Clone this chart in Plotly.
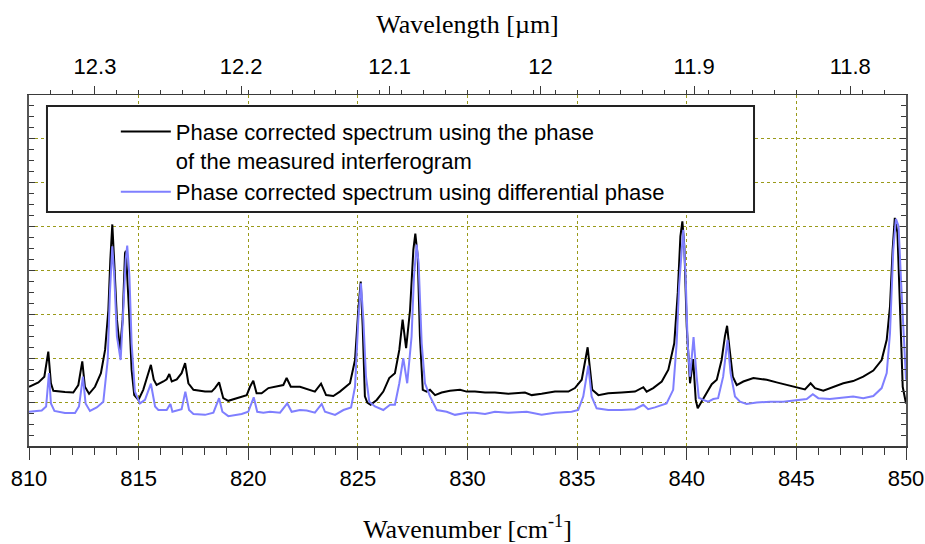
import plotly.graph_objects as go

# ---- data (intensity in arbitrary units) ----
wn_measured = [810.00, 810.43, 810.70, 810.88, 811.00, 811.11, 811.64, 812.02, 812.25, 812.43,
               812.55, 812.74, 813.01, 813.28, 813.47, 813.62, 813.71, 813.80, 813.89, 814.01,
               814.15, 814.27, 814.38, 814.42, 814.56, 814.68, 814.80, 814.99, 815.21, 815.41,
               815.56, 815.69, 815.82, 816.13, 816.28, 816.40, 816.51, 816.74, 816.96, 817.12,
               817.27, 817.50, 818.03, 818.33, 818.48, 818.67, 818.86, 819.09, 819.55, 819.93,
               820.08, 820.23, 820.38, 820.61, 820.92, 821.30, 821.60, 821.75, 821.94, 822.36,
               822.74, 823.04, 823.32, 823.55, 823.88, 824.18, 824.64, 824.87, 825.02, 825.13,
               825.22, 825.32, 825.43, 825.58, 825.86, 826.16, 826.43, 826.69, 826.89, 827.04,
               827.20, 827.38, 827.53, 827.62, 827.73, 827.83, 827.96, 828.14, 828.29, 828.52,
               828.82, 829.20, 829.66, 829.96, 830.34, 830.80, 831.25, 831.86, 832.62, 832.93,
               833.38, 833.99, 834.60, 834.90, 835.21, 835.48, 835.59, 835.69, 835.97, 836.42,
               837.03, 837.64, 838.02, 838.17, 838.47, 838.86, 839.16, 839.43, 839.59, 839.71,
               839.80, 839.89, 840.00, 840.15, 840.29, 840.41, 840.50, 840.68, 840.91, 841.14,
               841.37, 841.59, 841.74, 841.84, 841.94, 842.10, 842.28, 842.58, 843.04, 843.65,
               844.10, 844.56, 845.02, 845.39, 845.65, 845.85, 846.23, 846.68, 847.14, 847.59,
               848.05, 848.51, 848.89, 849.12, 849.27, 849.39, 849.49, 849.61, 849.73, 849.85,
               850.00]
int_measured = [1.35, 1.45, 1.58, 2.15, 1.43, 1.26, 1.23, 1.22, 1.39, 1.93,
                1.35, 1.19, 1.35, 1.66, 2.19, 3.10, 4.25, 5.05, 4.17, 2.88,
                2.19, 2.88, 4.40, 4.45, 3.10, 1.74, 1.16, 1.05, 1.28, 1.58,
                1.85, 1.51, 1.39, 1.47, 1.52, 1.64, 1.47, 1.52, 1.66, 1.89,
                1.43, 1.28, 1.24, 1.24, 1.32, 1.45, 1.09, 1.03, 1.10, 1.16,
                1.35, 1.49, 1.20, 1.20, 1.32, 1.35, 1.39, 1.55, 1.35, 1.35,
                1.28, 1.24, 1.42, 1.16, 1.14, 1.24, 1.43, 1.96, 3.10, 3.75,
                2.72, 1.13, 0.99, 0.94, 1.05, 1.24, 1.55, 1.66, 2.19, 2.88,
                2.23, 3.10, 4.47, 4.84, 4.32, 2.50, 1.28, 1.24, 1.28, 1.16,
                1.22, 1.26, 1.28, 1.24, 1.24, 1.22, 1.22, 1.19, 1.22, 1.16,
                1.19, 1.24, 1.24, 1.32, 1.51, 2.25, 1.74, 1.28, 1.16, 1.20,
                1.22, 1.24, 1.34, 1.24, 1.32, 1.47, 1.74, 2.34, 3.49, 4.78,
                5.12, 4.55, 2.72, 1.43, 1.98, 1.05, 0.86, 1.01, 1.20, 1.41,
                1.51, 1.96, 2.50, 2.74, 2.27, 1.58, 1.39, 1.47, 1.55, 1.51,
                1.45, 1.39, 1.34, 1.29, 1.43, 1.32, 1.26, 1.35, 1.43, 1.48,
                1.58, 1.72, 1.96, 2.42, 3.18, 4.47, 5.20, 4.86, 2.95, 1.35,
                0.97]

wn_differential = [810.00, 810.58, 810.78, 810.91, 811.00, 811.16, 811.64, 812.10, 812.28, 812.46,
                   812.58, 812.78, 813.09, 813.39, 813.59, 813.69, 813.80, 813.89, 814.01, 814.18,
                   814.30, 814.41, 814.48, 814.58, 814.68, 814.83, 815.06, 815.29, 815.56, 815.75,
                   815.90, 816.28, 816.45, 816.54, 816.96, 817.13, 817.30, 817.50, 818.03, 818.41,
                   818.67, 818.82, 819.09, 819.70, 820.00, 820.25, 820.41, 820.69, 820.99, 821.45,
                   821.78, 821.98, 822.36, 822.67, 823.04, 823.35, 823.50, 823.96, 824.34, 824.69,
                   824.87, 825.02, 825.14, 825.25, 825.37, 825.52, 825.78, 826.16, 826.47, 826.69,
                   826.89, 827.07, 827.25, 827.45, 827.56, 827.68, 827.77, 827.91, 828.06, 828.29,
                   828.60, 829.05, 829.43, 829.96, 830.34, 830.80, 831.25, 831.86, 832.70, 833.38,
                   833.99, 834.75, 835.05, 835.28, 835.51, 835.66, 835.89, 836.42, 837.03, 837.64,
                   838.02, 838.24, 838.55, 839.08, 839.38, 839.54, 839.65, 839.77, 839.84, 839.95,
                   840.04, 840.15, 840.31, 840.45, 840.55, 840.75, 840.98, 841.21, 841.43, 841.66,
                   841.86, 842.00, 842.20, 842.43, 842.73, 843.19, 843.80, 844.40, 845.02, 845.47,
                   845.75, 846.00, 846.53, 847.14, 847.59, 848.05, 848.51, 848.89, 849.12, 849.27,
                   849.42, 849.54, 849.66, 849.80, 850.00]
int_differential = [0.78, 0.81, 0.90, 1.66, 0.97, 0.80, 0.75, 0.75, 0.90, 1.58,
                    0.97, 0.80, 0.88, 1.01, 1.96, 3.49, 4.55, 3.87, 2.50, 1.96,
                    3.10, 4.25, 4.57, 3.87, 2.34, 1.24, 0.97, 1.05, 1.42, 0.90,
                    0.82, 0.82, 0.96, 0.78, 0.84, 1.24, 0.82, 0.73, 0.71, 0.76,
                    1.09, 0.78, 0.68, 0.73, 0.78, 1.11, 0.78, 0.76, 0.78, 0.76,
                    0.97, 0.78, 0.82, 0.81, 0.76, 0.96, 0.78, 0.71, 0.82, 0.88,
                    1.35, 2.88, 3.71, 2.88, 1.58, 1.01, 0.90, 0.82, 0.94, 0.94,
                    1.43, 2.00, 1.43, 2.50, 3.87, 4.59, 4.17, 2.34, 1.43, 1.13,
                    0.82, 0.78, 0.71, 0.76, 0.76, 0.73, 0.78, 0.76, 0.78, 0.71,
                    0.76, 0.78, 0.82, 1.13, 1.83, 1.13, 0.86, 0.82, 0.82, 0.84,
                    0.94, 0.84, 0.88, 0.97, 1.28, 2.34, 3.64, 4.63, 4.93, 3.87,
                    2.34, 1.58, 2.48, 1.58, 1.10, 1.05, 1.01, 1.07, 1.09, 1.58,
                    2.42, 1.66, 1.13, 1.01, 0.96, 0.99, 1.01, 1.01, 1.05, 1.07,
                    1.18, 1.09, 1.07, 1.11, 1.13, 1.09, 1.14, 1.32, 1.66, 2.57,
                    4.47, 5.18, 5.01, 3.49, 1.51]

wavelength_ticks = [12.3, 12.2, 12.1, 12.0, 11.9, 11.8]
wavelength_labels = ["12.3", "12.2", "12.1", "12", "11.9", "11.8"]
wn_range = [810, 850]
y_range = [0, 8]

name_measured = "Phase corrected spectrum using the phase<br>of the measured interferogram"
name_differential = "Phase corrected spectrum using differential phase"

BLACK = "#000000"
BLUE = "#7f7fff"
GRID = "#9a9a1a"
AXIS = "#3a3a3a"
TICKFONT = dict(family="Arial, Liberation Sans, sans-serif", size=22, color="black")
TITLEFONT = dict(family="Times New Roman, Liberation Serif, serif", size=26, color="black")

fig = go.Figure()
fig.add_trace(go.Scatter(x=wn_measured, y=int_measured, mode="lines", name=name_measured,
                         line=dict(color=BLACK, width=2)))
fig.add_trace(go.Scatter(x=wn_differential, y=int_differential, mode="lines", name=name_differential,
                         line=dict(color=BLUE, width=2)))
# carrier for the top wavelength axis
fig.add_trace(go.Scatter(x=[], y=[], xaxis="x2", showlegend=False, hoverinfo="skip"))

top_vals = [1e4 / w for w in wavelength_ticks]
minor_vals = list(range(wn_range[0] + 1, wn_range[1]))

fig.update_layout(
    width=925, height=544,
    margin=dict(l=29, r=19, t=95, b=98, autoexpand=False),
    paper_bgcolor="white", plot_bgcolor="white",
    showlegend=True,
    legend=dict(x=0.099, y=0.955, xanchor="left", yanchor="top",
                bgcolor="rgba(0,0,0,0)", borderwidth=0,
                font=dict(family="Arial, Liberation Sans, sans-serif", size=22, color="black"),
                valign="top", itemwidth=50, tracegroupgap=0),
    xaxis=dict(range=wn_range, tickmode="array", tickvals=list(range(810, 851, 5)),
               ticks="outside", ticklen=12, tickwidth=1.2, tickcolor=AXIS,
               showline=True, linecolor=AXIS, linewidth=1.5, mirror=False,
               showgrid=True, gridcolor=GRID, griddash="dot", gridwidth=1,
               zeroline=False, tickfont=TICKFONT, ticklabelstandoff=0, automargin=False,
               minor=dict(tickmode="array", tickvals=minor_vals, ticks="outside", ticklen=7,
                          tickcolor=AXIS, tickwidth=1, showgrid=False),
               title=dict(text="Wavenumber [cm<sup>-1</sup>]", font=TITLEFONT, standoff=30)),
    xaxis2=dict(range=wn_range, overlaying="x", side="top", anchor="y",
                tickmode="array", tickvals=top_vals, ticktext=wavelength_labels,
                ticks="outside", ticklen=8, tickwidth=1.2, tickcolor=AXIS,
                showline=True, linecolor=AXIS, linewidth=1.2, automargin=False,
                showgrid=False, zeroline=False, tickfont=TICKFONT, ticklabelstandoff=3,
                minor=dict(tickmode="array", tickvals=minor_vals, ticks="outside", ticklen=4,
                           tickcolor=AXIS, tickwidth=1),
                title=dict(text="Wavelength [µm]", font=TITLEFONT, standoff=12)),
    yaxis=dict(range=y_range, tickmode="linear", tick0=0, dtick=1,
               ticks="inside", ticklen=6, tickwidth=1, tickcolor=AXIS,
               showticklabels=False, showline=True, linecolor="#555555", linewidth=2,
               mirror="ticks", showgrid=True, gridcolor=GRID, griddash="dot", gridwidth=1,
               zeroline=False, automargin=False,
               minor=dict(tickmode="linear", dtick=0.25, ticks="inside", ticklen=5,
                          tickcolor=AXIS, tickwidth=1, showgrid=False)),
    shapes=[dict(type="rect", xref="paper", yref="paper",
                 x0=0.0205, x1=0.8267, y0=0.6667, y1=0.9687,
                 line=dict(color="#222222", width=2), fillcolor="white", layer="above")],
)

fig.write_html("out.html")
